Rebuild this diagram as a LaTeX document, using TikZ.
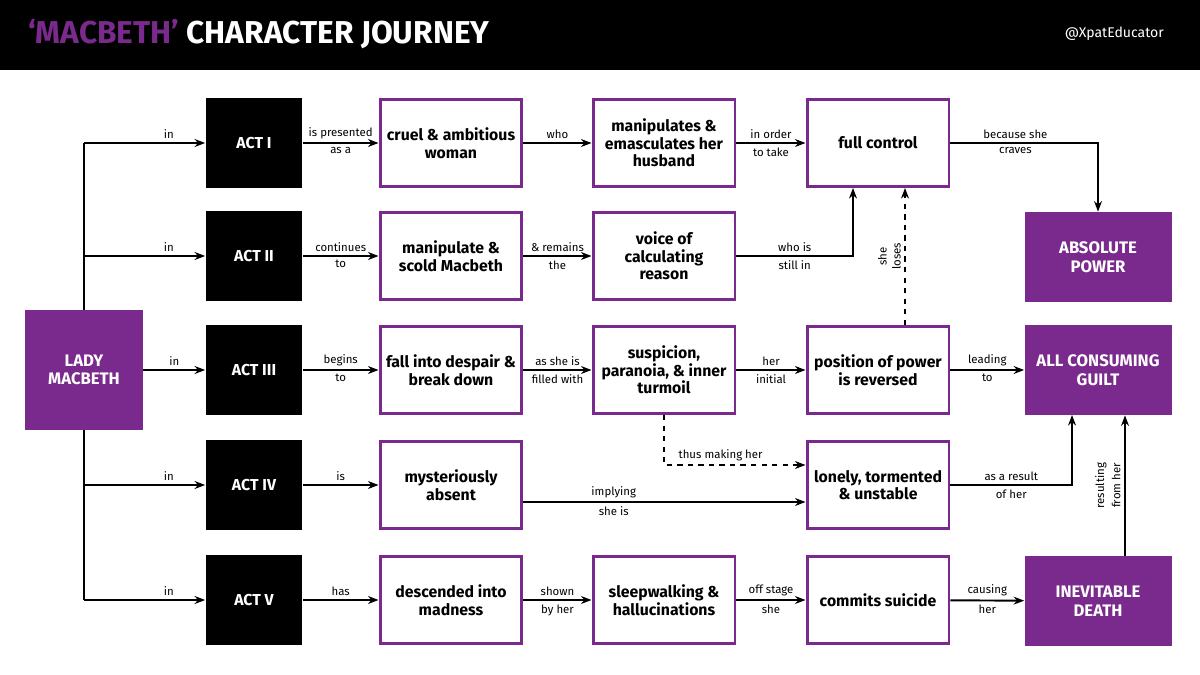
\documentclass[tikz,border=0pt]{standalone}
\usepackage{fontspec}
\setmainfont{Fira Sans}
\usetikzlibrary{arrows.meta,positioning}
\definecolor{macpurple}{RGB}{122,42,140}
\tikzstyle{act} = [rectangle, minimum width=1.94cm, minimum height=1.8cm, text centered, fill=black, text=white, font=\bfseries\fontsize{9}{10}\selectfont]
\tikzstyle{stage} = [rectangle, minimum width=2.84cm, minimum height=1.74cm, align=center, draw=macpurple, line width=1.7pt, fill=white, font=\bfseries\fontsize{9}{10}\selectfont]
\tikzstyle{outcome} = [rectangle, minimum width=2.94cm, minimum height=1.8cm, align=center, fill=macpurple, text=white, font=\bfseries\fontsize{9.5}{10.5}\selectfont]
\tikzstyle{arrow} = [line width=1.1pt,-{Stealth[length=6pt]}]
\tikzstyle{lbl} = [font=\fontsize{6.5}{7.5}\selectfont, inner sep=2pt]
\begin{document}
\begin{tikzpicture}[x=0.02cm,y=-0.02cm]
\useasboundingbox (0,0) rectangle (1200,675);
\fill[black] (0,0) rectangle (1200,70);
\node[anchor=west, font=\bfseries\fontsize{18}{20}\selectfont] (title) at (22,34) {\textcolor{macpurple}{‘MACBETH’} \textcolor{white}{CHARACTER JOURNEY}};
\node[anchor=east, text=white, font=\fontsize{8}{9}\selectfont] (handle) at (1170,34) {@XpatEducator};

\node (lady) [outcome, minimum width=2.36cm, minimum height=2.4cm] at (84,370) {LADY\\MACBETH};

\node (act1) [act] at (254,143) {ACT I};
\node (act2) [act] at (254,256) {ACT II};
\node (act3) [act] at (254,370) {ACT III};
\node (act4) [act] at (254,485) {ACT IV};
\node (act5) [act] at (254,600) {ACT V};

\node (cruel) [stage] at (451,143) {cruel \& ambitious\\woman};
\node (manip) [stage] at (664,143) {manipulates \&\\emasculates her\\husband};
\node (full) [stage] at (878,143) {full control};
\node (scold) [stage] at (451,256) {manipulate \&\\scold Macbeth};
\node (voice) [stage] at (664,256) {voice of\\calculating\\reason};
\node (despair) [stage] at (451,370) {fall into despair \&\\break down};
\node (susp) [stage] at (664,370) {suspicion,\\paranoia, \& inner\\turmoil};
\node (pos) [stage] at (878,370) {position of power\\is reversed};
\node (absent) [stage] at (451,485) {mysteriously\\absent};
\node (lonely) [stage] at (878,485) {lonely, tormented\\\& unstable};
\node (madness) [stage] at (451,600) {descended into\\madness};
\node (sleep) [stage] at (664,600) {sleepwalking \&\\hallucinations};
\node (suicide) [stage] at (878,600) {commits suicide};

\node (power) [outcome] at (1098,257) {ABSOLUTE\\POWER};
\node (guilt) [outcome] at (1098,370) {ALL CONSUMING\\GUILT};
\node (death) [outcome] at (1098,601) {INEVITABLE\\DEATH};

% from lady macbeth to the acts
\draw [line width=1.1pt] (lady.north) -- (84,143);
\draw [line width=1.1pt] (lady.south) -- (84,600);
\foreach \a/\y in {act1/143,act2/256,act4/485,act5/600}
  \draw [arrow] (84,\y) -- node[lbl, above, pos=0.7] {in} (\a);
\draw [arrow] (lady) -- node[lbl, above] {in} (act3);

% act I
\draw [arrow] (act1) -- node[lbl, above] {is presented} node[lbl, below] {as a} (cruel);
\draw [arrow] (cruel) -- node[lbl, above] {who} (manip);
\draw [arrow] (manip) -- node[lbl, above] {in order} node[lbl, below] {to take} (full);
\draw [arrow] (full.east) -| node[lbl, above, pos=0.22] {because she} node[lbl, below, pos=0.22] {craves} (power.north);

% act II
\draw [arrow] (act2) -- node[lbl, above] {continues} node[lbl, below] {to} (scold);
\draw [arrow] (scold) -- node[lbl, above] {\& remains} node[lbl, below] {the} (voice);
\draw [arrow] (voice.east) -| node[lbl, above, pos=0.25] {who is} node[lbl, below, pos=0.25] {still in} (853,188);

% act III
\draw [arrow] (act3) -- node[lbl, above] {begins} node[lbl, below] {to} (despair);
\draw [arrow] (despair) -- node[lbl, above] {as she is} node[lbl, below] {filled with} (susp);
\draw [arrow] (susp) -- node[lbl, above] {her} node[lbl, below] {initial} (pos);
\draw [arrow] (pos) -- node[lbl, above] {leading} node[lbl, below] {to} (guilt);
\draw [arrow, dashed, line width=0.9pt] (905,325) -- node[lbl, left, align=center] {\rotatebox{90}{\shortstack{she\\loses}}} (905,188);
\draw [arrow, dashed, line width=0.9pt] (susp.south) |- node[lbl, above, pos=0.7] {thus making her} (lonely.west |- 0,465);

% act IV
\draw [arrow] (act4) -- node[lbl, above] {is} (absent);
\draw [arrow] (absent.east |- 0,502) -- node[lbl, above, pos=0.32] {implying} node[lbl, below, pos=0.32] {she is} (lonely.west |- 0,502);
\draw [arrow] (lonely.east) -| node[lbl, above, pos=0.25] {as a result} node[lbl, below, pos=0.25] {of her} (1072,415);

% act V
\draw [arrow] (act5) -- node[lbl, above] {has} (madness);
\draw [arrow] (madness) -- node[lbl, above] {shown} node[lbl, below] {by her} (sleep);
\draw [arrow] (sleep) -- node[lbl, above] {off stage} node[lbl, below] {she} (suicide);
\draw [arrow] (suicide) -- node[lbl, above] {causing} node[lbl, below] {her} (death);
\draw [arrow] (death.north -| 1125,0) -- node[lbl, left] {\rotatebox{90}{\shortstack{resulting\\from her}}} (guilt.south -| 1125,0);

\end{tikzpicture}
\end{document}
